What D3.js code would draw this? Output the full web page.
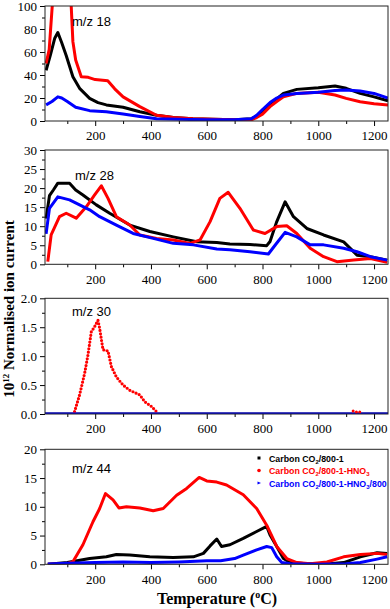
<!DOCTYPE html>
<html>
<head>
<meta charset="utf-8">
<script src="https://cdn.jsdelivr.net/npm/d3@7"></script>
<style>
  body { margin: 0; background: #fff; }
  .tick line { stroke: #000; }
</style>
</head>
<body>
<div class="canvas"></div>
<script>
// ---------- data (temperature ºC, normalised ion current) ----------
const xTicks = [200, 400, 600, 800, 1000, 1200];

const mz18Black = [[24,44],[40,58],[55,72],[66,77],[80,68],[96,57],[120,38.5],[144,28.4],[180,19.7],[210,16],[240,14],[300,12],[360,8],[420,5],[480,3],[550,2],[620,1.5],[700,1],[760,2],[779,4],[800,8],[827,14],[850,19],[875,24],[923,27.5],[1000,29],[1060,30.5],[1100,28.4],[1150,24],[1200,21],[1250,17.5]];
const mz18Red = [[24,50],[35,62],[46,100],[55,125],[70,140],[90,130],[105,115],[114,100],[120,69],[130,53],[150,38.5],[175,38],[200,36],[245,35],[270,28],[300,21],[360,12.5],[420,5],[480,3],[550,2],[620,1.5],[700,1],[760,1],[779,3],[800,6],[827,12.5],[851,17],[875,21],[923,24],[1000,25],[1060,22.6],[1100,19.7],[1150,16.8],[1200,15],[1250,14]];
const mz18Blue = [[24,14],[45,17],[66,21],[80,20],[100,17],[130,12],[180,9],[240,8],[300,6],[360,4],[420,2],[500,1.5],[600,1],[700,1],[760,2],[779,5],[800,10],[827,16],[851,20],[875,22.6],[923,24],[1000,25],[1060,26.5],[1100,27],[1150,26],[1200,24],[1250,20]];

const mz28Black = [[24,12],[36,18],[50,19.5],[66,21.3],[108,21.3],[130,19.5],[156,18.2],[204,15.6],[252,13.4],[324,10.3],[396,8.6],[480,7.2],[564,5.9],[636,5.7],[683,5.3],[755,5.2],[815,4.9],[827,6],[850,11],[881,16.4],[911,12.5],[959,9.4],[1019,7.7],[1091,5.9],[1139,2.4],[1187,2],[1247,1.1]];
const mz28Red = [[30,0.7],[42,7.7],[72,12.5],[96,13.4],[132,12.1],[168,15.1],[198,18.2],[222,20.6],[246,17.3],[276,12.5],[324,10.3],[360,7.7],[420,6.8],[480,6.4],[540,5.5],[576,6.4],[612,11.2],[647,17.3],[677,18.9],[719,14.7],[767,9],[809,8.1],[851,9.9],[887,10.1],[923,8.1],[971,4.2],[1019,2],[1067,0.7],[1127,1.1],[1187,1.5],[1247,0.5]];
const mz28Blue = [[24,8],[36,14.7],[66,17.7],[108,16.9],[144,15.6],[180,14.3],[216,12.5],[276,10.3],[336,8.1],[408,6.8],[480,5.5],[552,5.1],[636,4],[683,3.8],[755,3.3],[821,2.7],[845,5],[881,8.4],[923,7.2],[971,5.1],[1019,5.1],[1091,4.2],[1139,3.3],[1187,2],[1247,1.1]];

const mz30Black = [[20,0],[1250,0]];
const mz30Red = [[126,0.04],[144,0.33],[162,0.7],[174,1.02],[186,1.42],[198,1.51],[210,1.62],[216,1.48],[228,1.11],[246,1.09],[258,0.82],[276,0.64],[300,0.5],[324,0.41],[360,0.33],[378,0.21],[402,0.13],[420,0.04]];
const mz30RedHigh = [[1125,0.05],[1140,0.03],[1155,0.04]];
const mz30Blue = [[20,0],[1250,0]];

const mz44Black = [[30,0],[100,0.3],[180,1],[240,1.3],[276,1.7],[324,1.6],[396,1.3],[480,1.2],[552,1.3],[588,1.9],[612,3.2],[636,4.4],[653,3.1],[683,3.4],[731,4.5],[779,5.7],[815,6.6],[827,5.1],[851,3.1],[875,1],[899,0.3],[960,0.1],[1040,0.1],[1091,0.3],[1151,1.3],[1211,2],[1247,1.9]];
const mz44Red = [[30,0],[100,0.1],[120,0.45],[156,3.4],[192,7.4],[216,9.7],[237,12.3],[264,11.2],[285,9.8],[312,10],[360,9.8],[408,9.3],[444,9.7],[492,12],[528,13.2],[573,15.1],[600,14.5],[636,14.3],[671,13.8],[731,12.1],[779,9.7],[815,6.8],[851,3.1],[887,1],[923,0.3],[971,0.1],[1031,0.4],[1091,1.3],[1151,1.7],[1211,1.9],[1247,1.7]];
const mz44Blue = [[30,0.05],[100,0.2],[200,0.3],[300,0.4],[400,0.3],[500,0.4],[600,0.6],[650,0.6],[700,1],[731,1.6],[779,2.5],[815,3.1],[833,2.9],[851,1.3],[869,0.3],[900,0.1],[1000,0],[1100,0.1],[1151,0.3],[1211,0.9],[1247,1.3]];

const legendLabels = ['Carbon CO|2|/800-1', 'Carbon CO|2|/800-1-HNO|3', 'Carbon CO|2|/800-1-HNO|3|/800'];

//=============== set up ===============//
const width = 390, height = 609;
const left = 45, right = 388;
const colors = ['#000000', '#ff0000', '#0000ff'];
const serif = 'Liberation Serif, Times New Roman, serif';
const sans = 'Liberation Sans, Arial, sans-serif';

const svg = d3.select('.canvas')
    .append('svg')
    .attr('width', width)
    .attr('height', height);

const x = d3.scaleLinear().domain([20, 1250]).range([left, right]);

const panels = [
    { top: 6, bottom: 121, max: 100, major: 20, minor: 10, fmt: d3.format('d'), label: 'm/z 18', lx: 72, ly: 26,
      series: [mz18Black, mz18Red, mz18Blue] },
    { top: 150, bottom: 264.3, max: 30, major: 5, minor: 2.5, fmt: d3.format('d'), label: 'm/z 28', lx: 75, ly: 180,
      series: [mz28Black, mz28Red, mz28Blue] },
    { top: 298.3, bottom: 414, max: 2, major: 0.5, minor: 0.25, fmt: d3.format('.1f'), label: 'm/z 30', lx: 72, ly: 316,
      series: [mz30Black, mz30Red, mz30Blue], dotted: 1 },
    { top: 449.3, bottom: 564.3, max: 20, major: 5, minor: 2.5, fmt: d3.format('d'), label: 'm/z 44', lx: 72, ly: 473,
      series: [mz44Black, mz44Red, mz44Blue], legend: true }
];

const minorX = d3.range(100, 1250, 200);

const styleAxis = a => {
    a.select('.domain').remove();
    a.attr('font-family', serif).attr('font-size', 13);
    a.selectAll('.tick text').attr('fill', '#000');
};

panels.forEach((p, i) => {
    const y = d3.scaleLinear().domain([0, p.max]).range([p.bottom, p.top]);
    const g = svg.append('g');

    g.append('clipPath').attr('id', 'clip' + i)
        .append('rect')
        .attr('x', left).attr('y', p.top)
        .attr('width', right - left).attr('height', p.bottom - p.top);

    // axes
    g.append('g')
        .attr('transform', `translate(0,${p.bottom})`)
        .call(d3.axisBottom(x).tickValues(xTicks).tickSize(5).tickPadding(5).tickFormat(d3.format('d')))
        .call(styleAxis);
    g.append('g')
        .attr('transform', `translate(0,${p.bottom})`)
        .call(d3.axisBottom(x).tickValues(minorX).tickSize(3).tickFormat(''))
        .call(styleAxis);

    const majorY = d3.range(0, p.max + p.major / 2, p.major);
    const minorY = d3.range(p.minor, p.max, p.major).filter(v => v < p.max);
    g.append('g')
        .attr('transform', `translate(${left},0)`)
        .call(d3.axisLeft(y).tickValues(majorY).tickSize(5).tickPadding(3).tickFormat(p.fmt))
        .call(styleAxis);
    g.append('g')
        .attr('transform', `translate(${left},0)`)
        .call(d3.axisLeft(y).tickValues(minorY).tickSize(3).tickFormat(''))
        .call(styleAxis);

    // series
    const line = d3.line().x(d => x(d[0])).y(d => y(d[1]));
    const plot = g.append('g').attr('clip-path', `url(#clip${i})`);
    p.series.forEach((s, k) => {
        const path = plot.append('path')
            .attr('d', line(s))
            .attr('fill', 'none')
            .attr('stroke', colors[k])
            .attr('stroke-width', 3)
            .attr('stroke-linejoin', 'round');
        if (p.dotted === k) {
            path.attr('stroke-dasharray', '0 3.4')
                .attr('stroke-linecap', 'round')
                .attr('stroke-width', 3.2);
        }
    });
    if (p.dotted === 1) {
        plot.append('path')
            .attr('d', line(mz30RedHigh))
            .attr('fill', 'none')
            .attr('stroke', colors[1])
            .attr('stroke-width', 3)
            .attr('stroke-dasharray', '0 3.4')
            .attr('stroke-linecap', 'round');
    }

    // frame
    g.append('rect')
        .attr('x', left).attr('y', p.top)
        .attr('width', right - left).attr('height', p.bottom - p.top)
        .attr('fill', 'none')
        .attr('stroke', '#222')
        .attr('stroke-width', 1);

    g.append('text')
        .attr('x', p.lx).attr('y', p.ly)
        .attr('font-family', sans)
        .attr('font-size', 13)
        .text(p.label);

    if (p.legend) {
        const leg = g.append('g').attr('font-family', sans)
            .attr('font-size', 8.8).attr('font-weight', 'bold');
        legendLabels.forEach((lab, k) => {
            const ly = 458 + k * 12.5;
            if (k === 0) leg.append('rect').attr('x', 257.5).attr('y', ly - 1.5).attr('width', 3).attr('height', 3).attr('fill', colors[k]);
            if (k === 1) leg.append('circle').attr('cx', 259).attr('cy', ly).attr('r', 1.8).attr('fill', colors[k]);
            if (k === 2) leg.append('path').attr('d', `M${257.5},${ly - 1.5}L${261},${ly}L${257.5},${ly + 1.5}Z`).attr('fill', colors[k]);
            const t = leg.append('text').attr('x', 269).attr('y', ly + 3.5).attr('fill', colors[k]);
            lab.split('|').forEach((part, j) => {
                const ts = t.append('tspan').text(part);
                if (j % 2 === 1) ts.attr('font-size', 6).attr('dy', 2);
                else if (j > 0) ts.attr('dy', -2);
            });
        });
    }
});

// axis titles
svg.append('text')
    .attr('transform', 'translate(14,309) rotate(-90)')
    .attr('text-anchor', 'middle')
    .attr('font-family', serif)
    .attr('font-weight', 'bold')
    .attr('font-size', 15)
    .call(t => {
        t.append('tspan').text('10');
        t.append('tspan').text('12').attr('font-size', 9).attr('dy', -5);
        t.append('tspan').text(' Normalised ion current').attr('dy', 5);
    });

svg.append('text')
    .attr('x', 217).attr('y', 604)
    .attr('text-anchor', 'middle')
    .attr('font-family', serif)
    .attr('font-weight', 'bold')
    .attr('font-size', 16)
    .call(t => {
        t.append('tspan').text('Temperature (');
        t.append('tspan').text('o').attr('font-size', 10).attr('dy', -6);
        t.append('tspan').text('C)').attr('dy', 6);
    });
</script>
</body>
</html>
